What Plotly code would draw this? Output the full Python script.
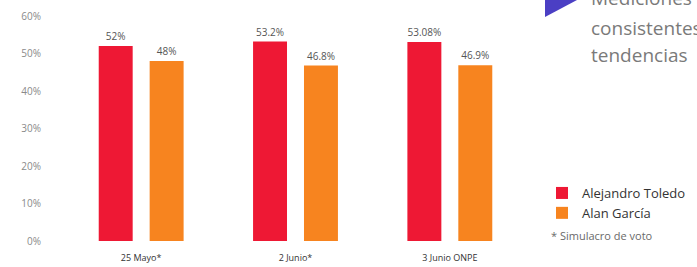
import plotly.graph_objects as go

categories = ["25 Mayo*", "2 Junio*", "3 Junio ONPE"]
toledo = [52, 53.2, 53.08]
garcia = [48, 46.8, 46.9]
series_names = ["Alejandro Toledo", "Alan García"]
y_ticks = [0, 10, 20, 30, 40, 50, 60]
y_tick_labels = [f"{v}%" for v in y_ticks]

W, H = 697, 267
L, R, T, B = 64, 697 - 527, 16, 267 - 241
pw, ph = W - L - R, H - T - B

def px(x):
    return (x - L) / pw

def py(y):
    return (H - B - y) / ph

red = "#ee1834"
orange = "#f7841f"

fig = go.Figure()
for name, vals, col in [(series_names[0], toledo, red), (series_names[1], garcia, orange)]:
    fig.add_trace(go.Bar(
        x=categories, y=vals, name=name,
        marker=dict(color=col, line=dict(width=0)),
        text=[f"{v:g}%" for v in vals], textposition="outside",
        textfont=dict(family="Open Sans", size=10, color="#555555"),
        cliponaxis=False,
    ))

fig.update_layout(
    width=W, height=H,
    margin=dict(l=L, r=R, t=T, b=B, autoexpand=False),
    paper_bgcolor="white", plot_bgcolor="white",
    barmode="group", bargap=0.34, bargroupgap=1/3,
    font=dict(family="Open Sans", color="#333333"),
    showlegend=True,
    legend=dict(x=px(542), y=py(178), xanchor="left", yanchor="top",
                font=dict(size=13, color="#333333"), tracegroupgap=0,
                bgcolor="rgba(0,0,0,0)"),
    xaxis=dict(showgrid=False, showline=False, zeroline=False, ticks="",
               tickfont=dict(size=9, color="#333333"), ticklabelstandoff=10),
    yaxis=dict(range=[0, 60], tickvals=y_ticks, ticktext=y_tick_labels,
               showgrid=False, showline=False, zeroline=False, ticks="",
               tickfont=dict(size=10, color="#8a8a8a"), ticklabelstandoff=22),
)

fig.add_annotation(x=px(549), y=py(235), xref="paper", yref="paper",
                   text="* Simulacro de voto", showarrow=False,
                   xanchor="left", yanchor="middle",
                   font=dict(size=11, color="#6a6a6a"))

fig.add_shape(type="path", xref="paper", yref="paper",
              path=f"M {px(545)} {py(-12)} L {px(577)} {py(0)} L {px(545)} {py(17)} Z",
              fillcolor="#4b3fc4", line=dict(width=0))

for text, yy in [("Mediciones", -2), ("consistentes", 28), ("tendencias", 55)]:
    fig.add_annotation(x=px(589), y=py(yy), xref="paper", yref="paper",
                       text=text, showarrow=False, xanchor="left", yanchor="middle",
                       font=dict(size=19, color="#7a7a7a"))

fig.write_html("out.html", config={"displayModeBar": False},
               post_script="document.body.style.margin='0';")
